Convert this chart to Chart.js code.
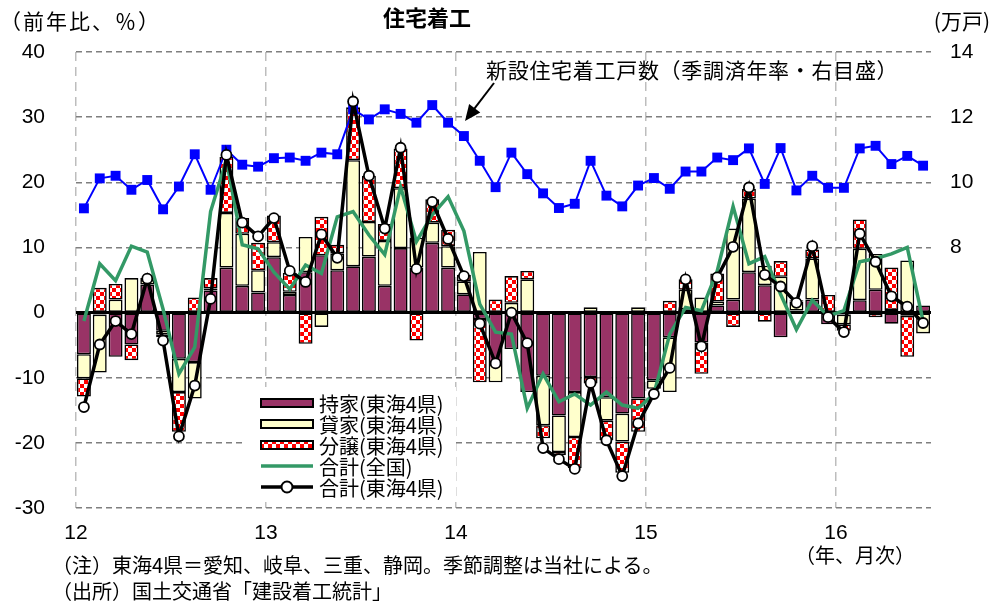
<!DOCTYPE html>
<html lang="ja">
<head>
<meta charset="utf-8">
<title>住宅着工</title>
<script src="https://cdn.jsdelivr.net/npm/chart.js@4.4.1/dist/chart.umd.min.js"></script>
<style>
  body { margin: 0; background: #fff; }
  #wrap { position: relative; width: 992px; height: 607px; font-family: "Noto Sans CJK JP", sans-serif; color: #000; }
  #wrap canvas { position: absolute; left: 0; top: 0; }
  .txt { position: absolute; white-space: nowrap; line-height: 1; }
</style>
</head>
<body>
<div id="wrap">
  <canvas id="startsChart" width="992" height="607"></canvas>
  <div class="txt" style="left:383px; top:5px; font-size:22px; font-weight:bold;">住宅着工</div>
  <div class="txt" style="left:0px; top:10px; font-size:21px; letter-spacing:2px;">（前年比、％）</div>
  <div class="txt" style="right:2px; top:10px; font-size:21px;">(万戸)</div>
  <div class="txt" style="left:486px; top:59px; font-size:21px; letter-spacing:0.7px;">新設住宅着工戸数（季調済年率・右目盛）</div>
  <div class="txt" style="left:795px; top:545px; font-size:20px;">（年、月次）</div>
  <div class="txt" style="left:52px; top:555px; font-size:20px;">（注）東海4県＝愛知、岐阜、三重、静岡。季節調整は当社による。</div>
  <div class="txt" style="left:52px; top:581px; font-size:20px;">（出所）国土交通省「建設着工統計」</div>
</div>
<script>
// --- data: monthly, Jan 2012 .. Jun 2016 ---
const yearLabels = ['12', '13', '14', '15', '16'];
const seriesNames = ['持家(東海4県)', '貸家(東海4県)', '分譲(東海4県)', '合計(全国)', '合計(東海4県)'];

// 持家 (東海4県), 前年比寄与 %
const ownHouse = [
  -6.4, -0.3, -6.8, -4.9, 4.3, -2.8, -7.1, -7.6, 3.4, 6.9, 4.1, 3.1,
  8.5, 2.7, 6.2, 8.8, 6.5, 7.1, 8.6, 4.1, 9.9, 6.9, 10.7, 6.9,
  2.8, -1.0, -7.6, -5.6, -12.2, -9.7, -15.8, -12.2, -9.9, -13.0, -15.5, -13.2,
  -10.4, -3.8, 0.5, -4.6, 1.1, 2.0, 6.2, 4.2, -3.8, 0.3, 2.0, -1.8,
  -0.3, 1.9, 3.5, -1.7, -0.5, 1.1
];
// 貸家 (東海4県)
const rental = [
  -3.7, -8.9, 2.0, 5.3, 0.7, -0.6, -5.1, -5.6, 0.3, 8.4, 8.0, 3.4,
  2.3, 0.5, 5.4, -2.2, 2.6, 16.3, 5.3, 6.9, 9.2, 4.6, 3.1, 3.3,
  2.0, 9.3, -3.1, 1.5, 5.1, -7.6, -5.6, -6.9, 0.8, -3.6, -4.3, 0.8,
  -1.3, -8.4, 3.0, 2.3, 0.6, 10.9, 11.3, 3.0, 5.5, 1.4, 6.3, 0.0,
  -1.5, 7.9, 5.5, 0.4, 8.0, -3.2
];
// 分譲 (東海4県)
const forSale = [
  -2.8, 3.8, 2.4, -2.4, 0.3, -0.4, -6.1, 2.3, 1.6, 8.6, 2.4, 4.2,
  4.1, 2.9, -4.8, 5.9, 1.3, 8.1, 7.1, 2.6, 6.1, -4.3, 3.6, 2.5,
  1.0, -9.7, 2.0, 4.1, 1.3, -2.0, -0.5, -4.8, -1.0, -3.0, -4.8, -5.1,
  0.0, 1.8, 1.6, -4.8, 4.3, -2.2, 1.5, -1.4, 2.4, 0.2, 1.4, 2.7,
  -1.0, 4.5, -0.7, 6.5, -6.3, 0.0
];
// 合計 (全国)
const totalNational = [
  -1.3, 7.5, 4.9, 10.2, 9.3, 0.5, -9.4, -5.3, 15.5, 23.4, 10.4, 9.8,
  6.2, 3.6, 7.3, 6.0, 14.7, 15.5, 11.9, 8.9, 19.3, 10.9, 15.0, 17.8,
  12.5, 1.3, -3.0, -3.3, -14.7, -9.4, -13.7, -12.5, -14.2, -12.2, -14.2, -14.7,
  -12.5, -3.3, 0.8, 0.3, 6.4, 16.3, 7.5, 8.6, 2.8, -2.6, 1.9, -0.5,
  0.3, 7.8, 8.3, 9.0, 10.0, -1.3
];
// 合計 (東海4県)
const totalTokai = [
  -14.5, -4.9, -1.3, -3.3, 5.2, -4.3, -19.0, -11.2, 2.1, 24.2, 13.8, 11.7,
  14.5, 6.4, 4.7, 12.0, 8.4, 32.4, 21.0, 12.9, 25.3, 6.7, 17.0, 11.3,
  5.6, -1.7, -7.8, 0.0, -4.7, -20.8, -22.5, -24.0, -10.8, -19.6, -25.1, -17.0,
  -12.5, -8.5, 5.1, -5.2, 5.4, 10.1, 19.2, 5.8, 4.0, 1.5, 10.2, -0.7,
  -3.0, 12.1, 7.8, 2.5, 0.9, -1.6
];
// 新設住宅着工戸数 (季調済年率, 万戸, 右目盛)
const housingStarts = [
  9.20, 10.12, 10.20, 9.77, 10.07, 9.17, 9.87, 10.86, 9.77, 11.00, 10.54, 10.48,
  10.74, 10.76, 10.66, 10.91, 10.86, 12.24, 11.93, 12.24, 12.10, 11.83, 12.37, 11.83,
  11.42, 10.66, 9.85, 10.91, 10.25, 9.66, 9.21, 9.34, 10.66, 9.59, 9.26, 9.90,
  10.13, 9.80, 10.33, 10.33, 10.76, 10.68, 11.04, 9.95, 11.05, 9.75, 10.20, 9.83,
  9.83, 11.04, 11.12, 10.56, 10.81, 10.51
];

// --- chart setup ---
const canvas = document.getElementById('startsChart');
const ctx = canvas.getContext('2d');

// red/white checker for 分譲
function makeChecker() {
  const tile = document.createElement('canvas');
  tile.width = 8;
  tile.height = 8;
  const t = tile.getContext('2d');
  t.fillStyle = '#ffffff';
  t.fillRect(0, 0, 8, 8);
  t.fillStyle = '#ff0000';
  t.fillRect(0, 0, 4, 4);
  t.fillRect(4, 4, 4, 4);
  return ctx.createPattern(tile, 'repeat');
}
const checker = makeChecker();

// months sit in the middle of each slot on a linear axis (0..54)
const toPoints = arr => arr.map((v, i) => ({ x: i + 0.5, y: v }));

const tickFont = { family: '"Liberation Sans", Arial, sans-serif', size: 21 };

const barBase = {
  type: 'bar',
  borderColor: '#000',
  borderWidth: 1.6,
  borderSkipped: false,
  barPercentage: 1,
  categoryPercentage: 0.88,
  order: 5
};

// zero line, arrow and the legend box
const decorations = {
  id: 'decorations',
  beforeDatasetsDraw(chart) {
    const { ctx, chartArea, scales } = chart;
    const y0 = scales.y.getPixelForValue(0);
    ctx.save();
    ctx.strokeStyle = '#000';
    ctx.lineWidth = 3;
    ctx.beginPath();
    ctx.moveTo(chartArea.left, y0);
    ctx.lineTo(chartArea.right, y0);
    ctx.stroke();
    ctx.restore();
  },
  afterDraw(chart) {
    const { ctx } = chart;
    ctx.save();

    // arrow to the blue line
    const x1 = 494, y1 = 83, x2 = 465, y2 = 121;
    const ang = Math.atan2(y2 - y1, x2 - x1);
    ctx.strokeStyle = '#000';
    ctx.fillStyle = '#000';
    ctx.lineWidth = 2;
    ctx.beginPath();
    ctx.moveTo(x1, y1);
    ctx.lineTo(x2 - 12 * Math.cos(ang), y2 - 12 * Math.sin(ang));
    ctx.stroke();
    ctx.beginPath();
    ctx.moveTo(x2, y2);
    ctx.lineTo(x2 - 16 * Math.cos(ang) + 7 * Math.sin(ang), y2 - 16 * Math.sin(ang) - 7 * Math.cos(ang));
    ctx.lineTo(x2 - 16 * Math.cos(ang) - 7 * Math.sin(ang), y2 - 16 * Math.sin(ang) + 7 * Math.cos(ang));
    ctx.closePath();
    ctx.fill();

    // legend
    const lx = 261, lw = 52, tx = 319;
    const rows = [403, 424, 445, 466, 487];
    const fills = ['#993366', '#ffffcc', checker];
    ctx.fillStyle = '#fff';
    ctx.fillRect(242, 387, 214, 111);
    rows.forEach((ry, i) => {
      if (i < 3) {
        ctx.fillStyle = fills[i];
        ctx.fillRect(lx, ry - 4, lw, 8);
        ctx.lineWidth = 2;
        ctx.strokeStyle = '#000';
        ctx.strokeRect(lx, ry - 4, lw, 8);
      } else {
        ctx.lineWidth = 3.5;
        ctx.strokeStyle = i === 3 ? '#339966' : '#000';
        ctx.beginPath();
        ctx.moveTo(lx, ry);
        ctx.lineTo(lx + lw, ry);
        ctx.stroke();
        if (i === 4) {
          ctx.beginPath();
          ctx.arc(lx + lw / 2, ry, 5.5, 0, Math.PI * 2);
          ctx.fillStyle = '#fff';
          ctx.fill();
          ctx.lineWidth = 2;
          ctx.stroke();
        }
      }
      ctx.fillStyle = '#000';
      ctx.font = '20px "Noto Sans CJK JP", sans-serif';
      ctx.textBaseline = 'middle';
      ctx.fillText(seriesNames[i], tx, ry + 1);
    });
    ctx.restore();
  }
};

new Chart(ctx, {
  type: 'bar',
  data: {
    datasets: [
      { ...barBase, label: seriesNames[0], data: toPoints(ownHouse), backgroundColor: '#993366' },
      { ...barBase, label: seriesNames[1], data: toPoints(rental), backgroundColor: '#ffffcc' },
      { ...barBase, label: seriesNames[2], data: toPoints(forSale), backgroundColor: checker },
      {
        type: 'line', label: seriesNames[3], data: toPoints(totalNational), stack: 'national',
        borderColor: '#339966', borderWidth: 3.5, pointRadius: 0, tension: 0, order: 3
      },
      {
        type: 'line', label: seriesNames[4], data: toPoints(totalTokai), stack: 'tokai',
        borderColor: '#000', borderWidth: 3.5, tension: 0, order: 1,
        pointRadius: 5, pointBackgroundColor: '#fff', pointBorderColor: '#000', pointBorderWidth: 1.8
      },
      {
        type: 'line', label: '新設住宅着工戸数', data: toPoints(housingStarts), yAxisID: 'y2',
        borderColor: '#0000ff', borderWidth: 2, tension: 0, order: 2,
        pointStyle: 'rect', pointRadius: 7, pointBackgroundColor: '#0000ff', pointBorderColor: '#0000ff', pointBorderWidth: 0
      }
    ]
  },
  options: {
    responsive: false,
    animation: false,
    layout: { padding: { top: 52, left: 0, right: 0, bottom: 0 } },
    plugins: {
      legend: { display: false },
      tooltip: { enabled: false }
    },
    scales: {
      x: {
        type: 'linear',
        stacked: true,
        min: 0,
        max: 54,
        offset: false,
        ticks: {
          stepSize: 12,
          includeBounds: false,
          maxRotation: 0,
          autoSkip: false,
          padding: 13,
          color: '#000',
          font: tickFont,
          callback: v => yearLabels[v / 12] ?? ''
        },
        grid: { color: '#bdbdbd', lineWidth: 1.5, drawTicks: false, offset: false },
        border: { display: false, dash: [9, 6] },
        afterFit: s => { s.height = 99; }
      },
      y: {
        stacked: true,
        min: -30,
        max: 40,
        ticks: { stepSize: 10, padding: 31, color: '#000', font: tickFont },
        grid: { color: '#7f7f7f', lineWidth: 1.5, drawTicks: false },
        border: { display: false, dash: [6, 4] },
        afterFit: s => { s.width = 76; }
      },
      y2: {
        position: 'right',
        min: 0,
        max: 14,
        ticks: {
          stepSize: 2,
          padding: 19,
          color: '#000',
          font: tickFont,
          callback: v => (v >= 8 ? v : '')
        },
        grid: { display: false, drawTicks: false },
        border: { display: false },
        afterFit: s => { s.width = 61; }
      }
    }
  },
  plugins: [decorations]
});
</script>
</body>
</html>
